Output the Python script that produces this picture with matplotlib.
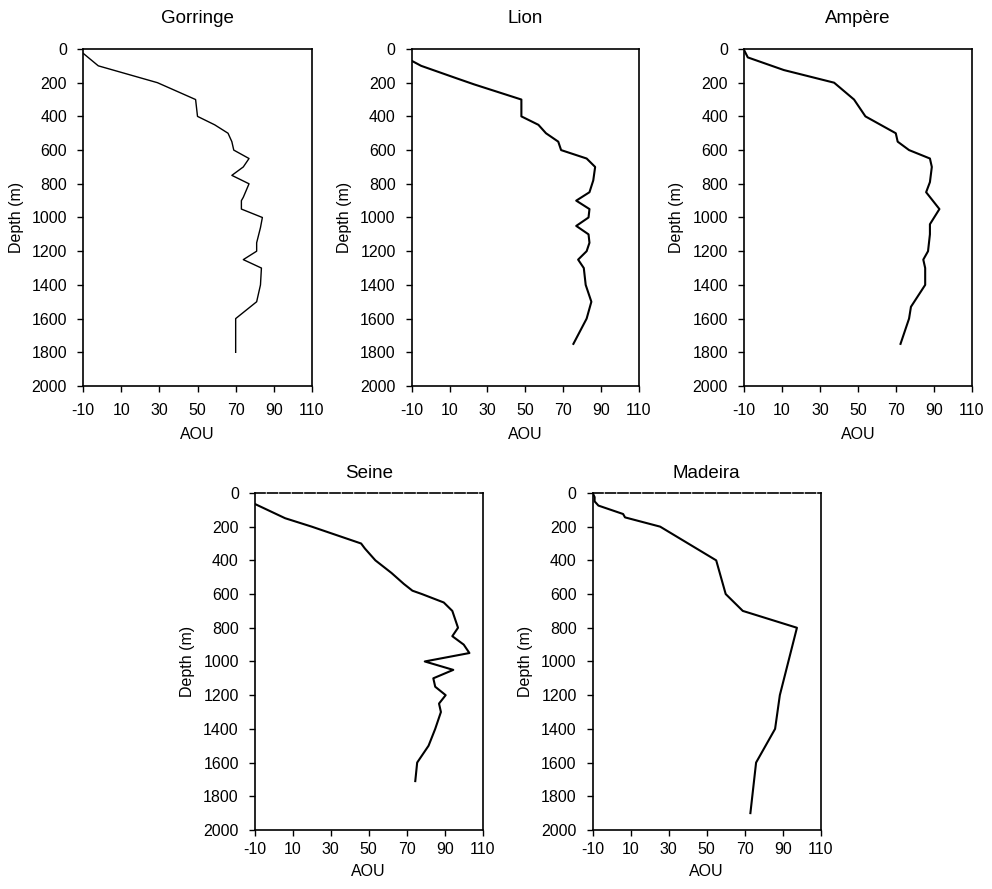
import matplotlib
matplotlib.use("Agg")
import matplotlib.pyplot as plt

plt.rcParams["font.family"] = ["Liberation Sans", "DejaVu Sans"]
plt.rcParams["axes.unicode_minus"] = False

# AOU vs depth profiles
gorringe_aou = [-10, -2, 29, 49, 50, 59, 66, 68, 69, 77, 74, 68, 77, 74, 73, 73,
                84, 83, 81, 81, 74, 83.5, 83, 81, 70, 70]
gorringe_depth = [25, 100, 200, 300, 400, 450, 500, 550, 600, 650, 700, 750, 800,
                  880, 900, 950, 1000, 1060, 1150, 1200, 1250, 1300, 1400, 1500,
                  1600, 1800]

lion_aou = [-10, -5, 14, 23, 48, 48, 57, 61, 67.5, 69, 82.5, 87, 86, 84, 77, 84,
            83.5, 77, 83.5, 84, 82.5, 78, 81, 82, 85, 82.5, 75.5]
lion_depth = [70, 100, 175, 210, 300, 400, 450, 500, 550, 600, 650, 700, 780, 850,
              900, 950, 1000, 1050, 1100, 1150, 1200, 1250, 1300, 1400, 1500,
              1600, 1750]

ampere_aou = [-10, -8, 11, 37.5, 48, 54, 70, 71, 77, 88, 89, 88, 86, 93, 88, 88,
              87, 84.5, 85.5, 85.5, 78, 77, 72.5]
ampere_depth = [5, 50, 125, 200, 300, 400, 500, 550, 600, 650, 700, 790, 850, 950,
                1040, 1100, 1200, 1250, 1300, 1400, 1530, 1600, 1750]

seine_aou = [-10, 6, 20, 46, 48, 53.5, 62, 68.5, 73, 78, 89.5, 94, 97, 94, 100,
             103, 79.5, 94.5, 84, 85, 90.5, 87, 88, 85, 81.5, 75.5, 74.5]
seine_depth = [65, 150, 200, 300, 330, 400, 475, 540, 580, 600, 650, 700, 800, 850,
               900, 950, 1000, 1050, 1100, 1150, 1200, 1250, 1300, 1400, 1500,
               1600, 1710]

madeira_aou = [-10, -9, -9, -7, 6, 7, 25.5, 55, 60, 69, 97.5, 88.5, 86, 76, 73]
madeira_depth = [0, 25, 50, 75, 125, 145, 200, 400, 600, 700, 800, 1200, 1400,
                 1600, 1900]

stations = ["Gorringe", "Lion", "Ampère", "Seine", "Madeira"]
profiles = [
    (gorringe_aou, gorringe_depth, 1.0),
    (lion_aou, lion_depth, 1.5),
    (ampere_aou, ampere_depth, 1.5),
    (seine_aou, seine_depth, 1.5),
    (madeira_aou, madeira_depth, 1.5),
]

x_ticks = [-10, 10, 30, 50, 70, 90, 110]
y_ticks = list(range(0, 2001, 200))

# axes boxes in figure fractions [left, bottom, width, height]
boxes = [
    [0.0837, 0.5658, 0.2308, 0.3791],
    [0.4150, 0.5658, 0.2288, 0.3791],
    [0.7500, 0.5658, 0.2295, 0.3791],
    [0.2568, 0.0664, 0.2298, 0.3791],
    [0.5975, 0.0664, 0.2298, 0.3791],
]

fig = plt.figure(figsize=(9.92, 8.89), dpi=100)

for i, (name, (aou, depth, lw), box) in enumerate(zip(stations, profiles, boxes)):
    top_row = i < 3
    ax = fig.add_axes(box)
    ax.plot(aou, depth, color="black", lw=lw)
    ax.set_xlim(-10, 110)
    ax.set_ylim(2000, 0)
    ax.set_xticks(x_ticks)
    ax.set_yticks(y_ticks)
    ax.tick_params(direction="out", length=4, width=1, labelsize=11.5)
    ax.tick_params(axis="x", pad=8.5 if top_row else 4.5)
    ax.tick_params(axis="y", pad=7.5)
    for side in ax.spines.values():
        side.set_linewidth(1.2)
    if not top_row:
        ax.spines["top"].set_linestyle((0, (6, 1.5)))
    ax.set_xlabel("AOU", fontsize=11.5, labelpad=6.5 if top_row else 5.3)
    ax.set_ylabel("Depth (m)", fontsize=11.5, labelpad=5.7)
    ax.set_title(name, fontsize=13.5, pad=19 if top_row else 11)

fig.savefig("out.png", dpi=100)
